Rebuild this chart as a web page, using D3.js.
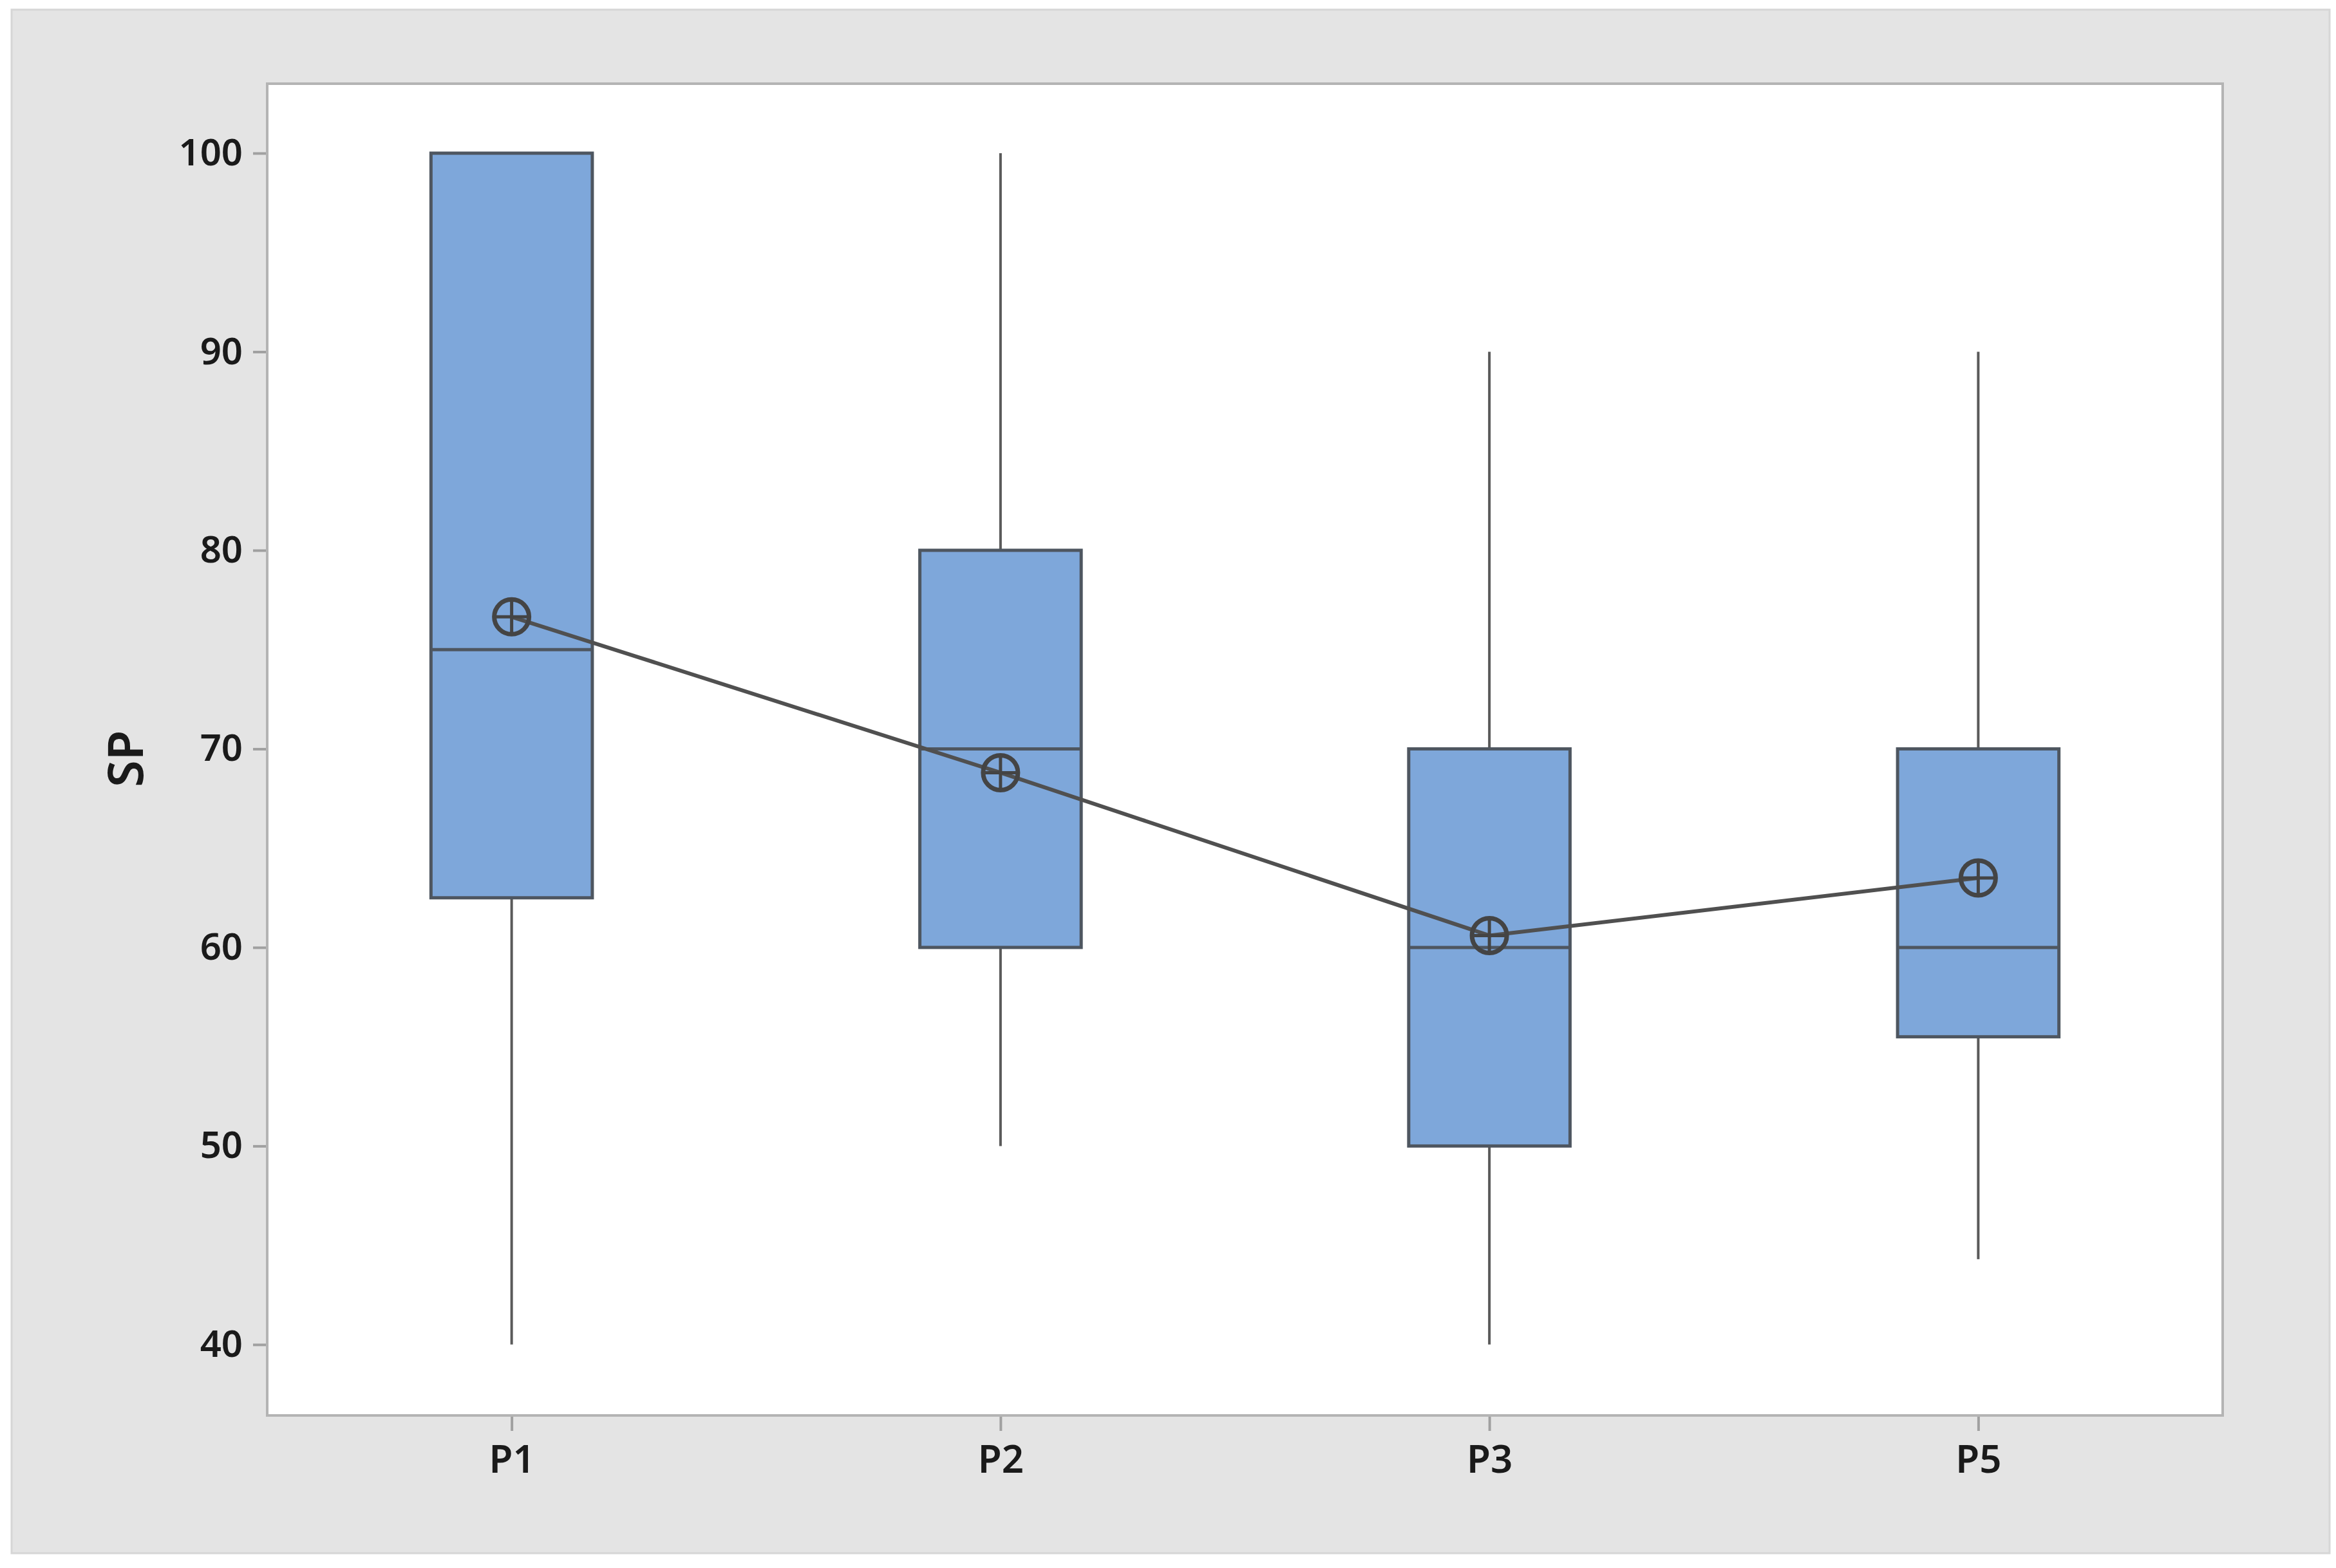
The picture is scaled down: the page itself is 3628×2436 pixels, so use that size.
<!DOCTYPE html>
<html>
<head>
<meta charset="utf-8">
<script src="https://cdn.jsdelivr.net/npm/d3@7"></script>
<style>
  html, body { margin: 0; padding: 0; background: #ffffff; }
  text { font-family: "Noto Sans", "Open Sans", sans-serif; fill: #1a1a1a; }
</style>
</head>
<body>
<svg id="chart" width="3628" height="2436"></svg>
<script>
// data
const categories = ["P1", "P2", "P3", "P5"];
const whiskerLow  = [40, 50, 40, 44.3];
const q1          = [62.5, 60, 50, 55.5];
const medians     = [75, 70, 60, 60];
const q3          = [100, 80, 70, 70];
const whiskerHigh = [100, 100, 90, 90];
const means       = [76.65, 68.8, 60.6, 63.5];
const yTicks      = [40, 50, 60, 70, 80, 90, 100];

const svg = d3.select("#chart");

const WIDTH = 3628, HEIGHT = 2436;
const plot = { left: 415, top: 130, right: 3452, bottom: 2199 };

// outer gray panel
svg.append("rect")
    .attr("x", 18).attr("y", 15)
    .attr("width", 3600).attr("height", 2398)
    .attr("fill", "#e4e4e4")
    .attr("stroke", "#d6d6d6")
    .attr("stroke-width", 3);

// plot area
svg.append("rect")
    .attr("x", plot.left).attr("y", plot.top)
    .attr("width", plot.right - plot.left)
    .attr("height", plot.bottom - plot.top)
    .attr("fill", "#ffffff")
    .attr("stroke", "#b4b4b4")
    .attr("stroke-width", 4);

const x = d3.scalePoint()
    .domain(categories)
    .range([plot.left, plot.right])
    .padding(0.5);

const y = d3.scaleLinear()
    .domain([36.43, 103.5])
    .range([plot.bottom, plot.top]);

const boxW = x.step() * 0.33;

// axes
const yAxis = svg.append("g")
    .attr("transform", `translate(${plot.left - 2},0)`)
    .call(d3.axisLeft(y).tickValues(yTicks).tickSize(20).tickPadding(16));
yAxis.select(".domain").remove();
yAxis.selectAll(".tick line").attr("stroke", "#a0a0a0").attr("stroke-width", 4);
yAxis.selectAll(".tick text")
    .attr("font-size", 58).attr("font-weight", 600)
    .attr("fill", "#1a1a1a");

const xAxis = svg.append("g")
    .attr("transform", `translate(0,${plot.bottom + 2})`)
    .call(d3.axisBottom(x).tickSize(22).tickPadding(22));
xAxis.select(".domain").remove();
xAxis.selectAll(".tick line").attr("stroke", "#a0a0a0").attr("stroke-width", 4);
xAxis.selectAll(".tick text")
    .attr("font-size", 60).attr("font-weight", 600)
    .attr("fill", "#1a1a1a");

// y title
svg.append("text")
    .attr("transform", `translate(222,${(y(70) + y(69)) / 2}) rotate(-90)`)
    .attr("text-anchor", "middle")
    .attr("font-size", 76)
    .attr("font-weight", 600)
    .text("SP");

// boxes
const rows = categories.map((c, i) => ({
    cat: c, lo: whiskerLow[i], q1: q1[i], med: medians[i],
    q3: q3[i], hi: whiskerHigh[i], mean: means[i]
}));

const g = svg.append("g");

// whiskers
g.selectAll("line.whisk-lo")
    .data(rows).enter().append("line")
    .attr("class", "whisk-lo")
    .attr("x1", d => x(d.cat)).attr("x2", d => x(d.cat))
    .attr("y1", d => y(d.q1)).attr("y2", d => y(d.lo))
    .attr("stroke", "#5a5a5a").attr("stroke-width", 4);

g.selectAll("line.whisk-hi")
    .data(rows.filter(d => d.hi > d.q3)).enter().append("line")
    .attr("class", "whisk-hi")
    .attr("x1", d => x(d.cat)).attr("x2", d => x(d.cat))
    .attr("y1", d => y(d.q3)).attr("y2", d => y(d.hi))
    .attr("stroke", "#5a5a5a").attr("stroke-width", 4);

g.selectAll("rect.box")
    .data(rows).enter().append("rect")
    .attr("class", "box")
    .attr("x", d => x(d.cat) - boxW / 2)
    .attr("width", boxW)
    .attr("y", d => y(d.q3))
    .attr("height", d => y(d.q1) - y(d.q3))
    .attr("fill", "#7ea7da")
    .attr("stroke", "#4e5660")
    .attr("stroke-width", 5);

g.selectAll("line.median")
    .data(rows).enter().append("line")
    .attr("class", "median")
    .attr("x1", d => x(d.cat) - boxW / 2).attr("x2", d => x(d.cat) + boxW / 2)
    .attr("y1", d => y(d.med)).attr("y2", d => y(d.med))
    .attr("stroke", "#4e5660").attr("stroke-width", 5);

// mean connect line
const line = d3.line().x(d => x(d.cat)).y(d => y(d.mean));
g.append("path")
    .datum(rows)
    .attr("d", line)
    .attr("fill", "none")
    .attr("stroke", "#505050")
    .attr("stroke-width", 6);

// mean symbols (circle with cross)
const R = 27;
const sym = g.selectAll("g.mean")
    .data(rows).enter().append("g")
    .attr("class", "mean")
    .attr("transform", d => `translate(${x(d.cat)},${y(d.mean)})`);
sym.append("circle")
    .attr("r", R)
    .attr("fill", "none")
    .attr("stroke", "#444444")
    .attr("stroke-width", 7);
sym.append("line")
    .attr("x1", -R).attr("x2", R)
    .attr("stroke", "#444444").attr("stroke-width", 5);
sym.append("line")
    .attr("y1", -R).attr("y2", R)
    .attr("stroke", "#444444").attr("stroke-width", 5);
</script>
</body>
</html>
